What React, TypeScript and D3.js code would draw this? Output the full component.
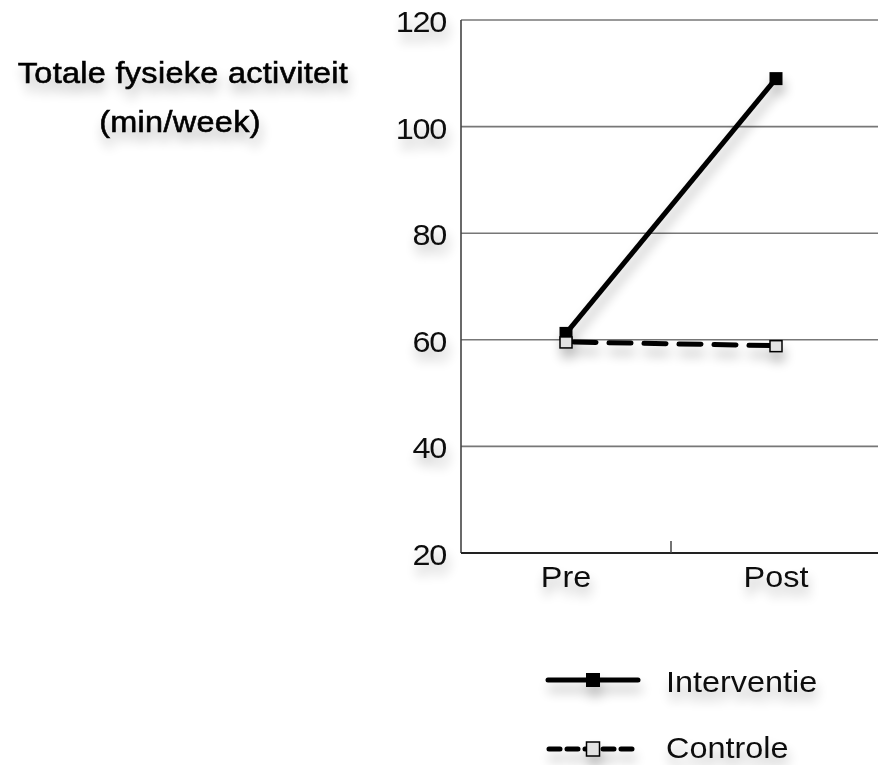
import React from "react";
import * as d3 from "d3";

const categories = ["Pre", "Post"];
const interventie = [61.2, 109];
const controle = [59.6, 58.9];
const yTicks = [20, 40, 60, 80, 100, 120];
const titleLines = ["Totale fysieke activiteit", "(min/week)"];
const legendLabels = ["Interventie", "Controle"];

const W = 878;
const H = 765;
const FONT = "'Liberation Sans', Arial, Helvetica, sans-serif";
const SX = 1.08;

function T({ x, y, anchor = "start", children, ls = 0 }: { x: number; y: number; anchor?: string; children: React.ReactNode; ls?: number }) {
  return (
    <text transform={`translate(${x},${y}) scale(${SX},1)`} textAnchor={anchor as any} style={{ letterSpacing: ls }}>
      {children}
    </text>
  );
}

export default function App() {
  const y = d3.scaleLinear().domain([20, 120]).range([553, 20]);
  const x = d3.scaleBand<string>().domain(categories).range([461, 881]).padding(0);
  const cx = (c: string) => (x(c) as number) + x.bandwidth() / 2;
  const line = d3
    .line<number>()
    .x((_, i) => cx(categories[i]))
    .y((d) => y(d));
  const ms = 13;
  const textStyle: React.CSSProperties = { fontFamily: FONT, fontSize: 30 };

  return (
    <svg width={W} height={H} style={{ position: "absolute", left: 0, top: 0, background: "#fff" }}>
      <defs>
        <filter id="sh" x="-30%" y="-60%" width="160%" height="260%">
          <feGaussianBlur in="SourceAlpha" stdDeviation="6" />
          <feOffset dx="2" dy="9" result="b" />
          <feComponentTransfer>
            <feFuncA type="linear" slope="0.28" />
          </feComponentTransfer>
          <feMerge>
            <feMergeNode />
            <feMergeNode in="SourceGraphic" />
          </feMerge>
        </filter>
      </defs>
      <rect width={W} height={H} fill="#fff" />

      {/* title */}
      <g filter="url(#sh)" style={textStyle} fill="#000" stroke="#000" strokeWidth={0.6}>
        <T x={183} y={83} anchor="middle" ls={0.3}>{titleLines[0]}</T>
        <T x={180} y={132} anchor="middle" ls={0.3}>{titleLines[1]}</T>
      </g>

      {/* gridlines */}
      {yTicks.filter((t) => t > 20).map((t) => (
        <line key={t} x1={461} x2={W} y1={y(t)} y2={y(t)} stroke="#777" strokeWidth={1.6} />
      ))}
      <line x1={461} x2={461} y1={y(120)} y2={y(20)} stroke="#444" strokeWidth={1.6} />
      <line x1={461} x2={W} y1={y(20)} y2={y(20)} stroke="#222" strokeWidth={2} />
      <line x1={x("Post")} x2={x("Post")} y1={y(20) - 12} y2={y(20)} stroke="#444" strokeWidth={1.5} />

      {/* y tick labels */}
      <g filter="url(#sh)" style={textStyle} fill="#111">
        {yTicks.map((t) => (
          <T key={t} x={446} y={y(t) + 12} anchor="end" ls={-1.2}>{t}</T>
        ))}
        {categories.map((c) => (
          <T key={c} x={cx(c)} y={587} anchor="middle">{c}</T>
        ))}
      </g>

      {/* series */}
      <g filter="url(#sh)">
        <path d={line(interventie) || ""} fill="none" stroke="#000" strokeWidth={5} />
        {interventie.map((v, i) => (
          <rect key={i} x={cx(categories[i]) - ms / 2} y={y(v) - ms / 2} width={ms} height={ms} fill="#000" />
        ))}
        <path d={line(controle) || ""} fill="none" stroke="#000" strokeWidth={5} strokeDasharray="22 13" strokeDashoffset={-8} strokeLinecap="round" />
        {controle.map((v, i) => (
          <rect key={i} x={cx(categories[i]) - 6} y={y(v) - 5} width={12} height={11} fill="#e2e2e2" stroke="#000" strokeWidth={1.5} />
        ))}
      </g>

      {/* legend */}
      <g filter="url(#sh)">
        <line x1={548} x2={638} y1={680} y2={680} stroke="#000" strokeWidth={5} strokeLinecap="round" />
        <rect x={593 - 7} y={680 - 7} width={14} height={14} fill="#000" />
        <line x1={549} x2={638} y1={749} y2={749} stroke="#000" strokeWidth={5} strokeDasharray="11 7" strokeLinecap="round" />
        <rect x={593 - 6.5} y={749 - 7} width={13} height={14} fill="#e2e2e2" stroke="#000" strokeWidth={1.5} />
        <g style={textStyle} fill="#111">
          <T x={666} y={692}>{legendLabels[0]}</T>
          <T x={666} y={758}>{legendLabels[1]}</T>
        </g>
      </g>
    </svg>
  );
}
